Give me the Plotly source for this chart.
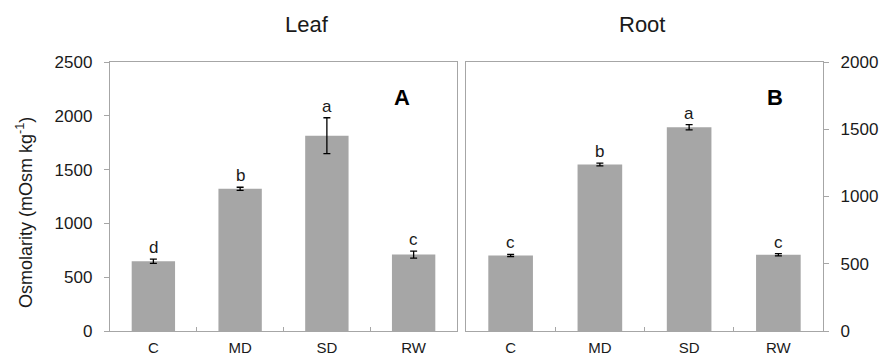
import plotly.graph_objects as go
from plotly.subplots import make_subplots

categories = ["C", "MD", "SD", "RW"]
leaf_values = [648, 1321, 1815, 710]
leaf_errors = [20, 15, 167, 33]
leaf_letters = ["d", "b", "a", "c"]
root_values = [562, 1238, 1515, 567]
root_errors = [8, 10, 20, 8]
root_letters = ["c", "b", "a", "c"]

BAR = "#A6A6A6"
AX = "#A6A6A6"
FONT = "Liberation Sans, Arial, sans-serif"
TXT = "#1a1a1a"

fig = make_subplots(rows=1, cols=2, horizontal_spacing=0.025)

for col, vals, errs in [(1, leaf_values, leaf_errors), (2, root_values, root_errors)]:
    fig.add_trace(go.Bar(
        x=categories, y=vals, marker=dict(color=BAR, line=dict(width=0)),
        width=0.5,
        error_y=dict(type="data", array=errs, visible=True, color="black", thickness=1.3, width=3.5),
        showlegend=False, hoverinfo="skip"), row=1, col=col)

W, H = 881, 361
ml, mr, mt, mb = 110, 58, 62, 30
pw = W - ml - mr
ph = H - mt - mb
d1 = (457 - ml) / pw
d2 = (466 - ml) / pw

def px(x):
    return (x - ml) / pw

def py(y):
    return (H - mb - y) / ph

fig.update_layout(
    width=W, height=H, margin=dict(l=ml, r=mr, t=mt, b=mb, autoexpand=False),
    paper_bgcolor="white", plot_bgcolor="white",
    font=dict(family=FONT, size=15, color=TXT),
)
xcommon = dict(showline=True, mirror=True, linecolor=AX, linewidth=1.3,
               ticks="inside", tickson="boundaries", ticklen=4, tickcolor=AX,
               tickfont=dict(size=15, family=FONT, color=TXT), showgrid=False,
               automargin=False, ticklabelstandoff=3)
fig.update_xaxes(domain=[0, d1], row=1, col=1, **xcommon)
fig.update_xaxes(domain=[d2, 1], row=1, col=2, **xcommon)

ycommon = dict(showline=True, mirror=True, linecolor=AX, linewidth=1.3,
               ticks="outside", ticklen=5, tickcolor=AX, showgrid=False, zeroline=False,
               tickfont=dict(size=17, family=FONT, color=TXT), automargin=False,
               ticklabelstandoff=8)
fig.update_yaxes(range=[0, 2500], dtick=500, row=1, col=1, **ycommon)
fig.update_yaxes(range=[0, 2000], dtick=500, side="right", row=1, col=2, **ycommon)

for xr, yr, vals, errs, lets in [("x", "y", leaf_values, leaf_errors, leaf_letters),
                                  ("x2", "y2", root_values, root_errors, root_letters)]:
    for c, v, e, l in zip(categories, vals, errs, lets):
        fig.add_annotation(x=c, y=v + e, xref=xr, yref=yr, text=l, showarrow=False,
                           yanchor="bottom", yshift=0, font=dict(size=17, family=FONT, color=TXT))

fig.add_annotation(x=px(25), y=py(213), xref="paper", yref="paper",
                   text="Osmolarity (mOsm kg<sup>-1</sup>)", textangle=-90, showarrow=False,
                   xanchor="center", yanchor="middle", font=dict(size=18, family=FONT, color=TXT))
fig.add_annotation(x=px(307), y=py(25), xref="paper", yref="paper", text="Leaf",
                   showarrow=False, xanchor="center", yanchor="middle", font=dict(size=22, family=FONT, color=TXT))
fig.add_annotation(x=px(642), y=py(25), xref="paper", yref="paper", text="Root",
                   showarrow=False, xanchor="center", yanchor="middle", font=dict(size=22, family=FONT, color=TXT))
fig.add_annotation(x=px(402), y=py(97), xref="paper", yref="paper", text="<b>A</b>",
                   showarrow=False, xanchor="center", yanchor="middle", font=dict(size=22, family=FONT, color="black"))
fig.add_annotation(x=px(775), y=py(97), xref="paper", yref="paper", text="<b>B</b>",
                   showarrow=False, xanchor="center", yanchor="middle", font=dict(size=22, family=FONT, color="black"))

fig.write_html("out.html", config={"displayModeBar": False},
               post_script="document.body.style.margin='0';")
